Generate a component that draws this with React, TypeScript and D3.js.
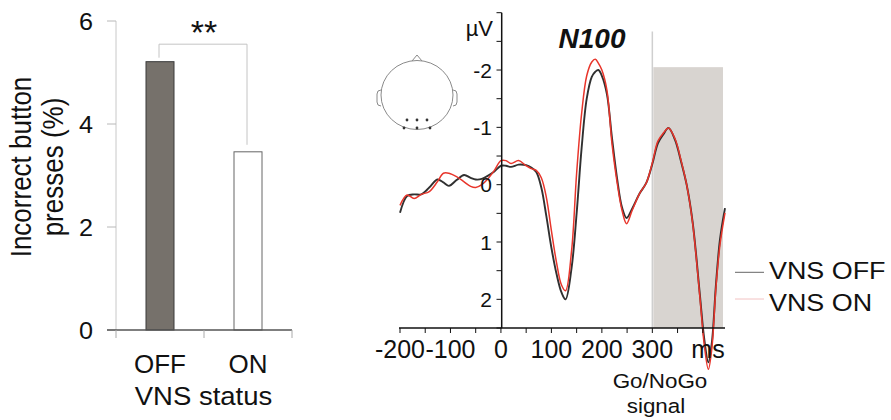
import React from "react";
import * as d3 from "d3";

// ---------- Data ----------
const BAR_CATEGORIES = ["OFF", "ON"];
const BAR_VALUES = [5.21, 3.46];
const BAR_Y_TICKS = [0, 2, 4, 6];

const TIME_MS = [
  -200, -186, -172, -158, -142, -126, -114, -103, -88, -73, -60, -50, -38, -27, -13,
  0, 10, 20, 35, 50, 60, 70, 80, 90, 100, 110, 120, 128, 140, 150, 160, 170, 180, 187,
  193, 200, 210, 220, 230, 240, 249, 260, 275, 288, 300, 311, 322, 332, 345, 357, 368,
  380, 394, 403, 411, 418, 426, 434, 444,
];
const VNS_OFF = [
  0.49, 0.2, 0.17, 0.17, 0.05, -0.09, -0.04, 0.02, -0.08, -0.17, -0.12, -0.09, -0.1, -0.15, -0.23,
  -0.33, -0.33, -0.31, -0.35, -0.34, -0.3, -0.22, 0.05, 0.55, 1.1, 1.55, 1.88, 2.0, 1.45, 0.5, -0.65,
  -1.5, -1.88, -1.97, -2.0, -1.9, -1.58, -0.82, -0.12, 0.4, 0.58, 0.42, 0.15, -0.03, -0.36, -0.72,
  -0.88, -0.99, -0.78, -0.4, 0.0, 0.66, 1.9, 2.7, 3.1, 2.75, 1.75, 0.96, 0.41,
];
const VNS_ON = [
  0.36, 0.18, 0.24, 0.17, 0.12, -0.05, -0.2, -0.2, -0.14, -0.05, 0.03, 0.05, 0.0, -0.09, -0.25,
  -0.42, -0.42, -0.37, -0.42, -0.33, -0.28, -0.25, -0.12, 0.22, 0.8, 1.35, 1.75, 1.85, 1.15, -0.2, -1.25,
  -1.9, -2.14, -2.19, -2.12, -2.0, -1.65, -0.72, -0.05, 0.45, 0.68, 0.45, 0.15, -0.03, -0.38, -0.76,
  -0.9, -0.99, -0.8, -0.42, 0.0, 0.68, 1.94, 2.8, 3.22, 2.85, 1.8, 1.05, 0.49,
];
const ERP_X_TICKS = [-200, -150, -100, -50, 0, 50, 100, 150, 200, 250, 300, 350, 400];
const ERP_X_LABELS = [-200, -100, 0, 100, 200, 300];
const ERP_Y_TICKS = [-3, -2.5, -2, -1.5, -1, -0.5, 0, 0.5, 1, 1.5, 2, 2.5];
const ERP_Y_LABELS = [-2, -1, 0, 1, 2];
const SIGNAL_MS = 300;
const WINDOW_MS = [302, 440];
const WINDOW_TOP_UV = -2.05;
const LEGEND = ["VNS OFF", "VNS ON"];
const ELECTRODES = [
  [-10, 25], [0, 25], [10, 25], [-13, 33], [0, 33], [13, 33],
];

const FONT = "'Liberation Sans', Arial, Helvetica, sans-serif";

function ST(props: any) {
  const { x, y, sx = 1, rot = 0, children, ...rest } = props;
  return (
    <text
      transform={`translate(${x},${y}) scale(${sx},1)${rot ? ` rotate(${rot})` : ""}`}
      fontFamily={FONT}
      {...rest}
    >
      {children}
    </text>
  );
}

export default function App() {
  // ---- Left bar chart scales ----
  const bx = d3.scalePoint<string>().domain(BAR_CATEGORIES).range([116, 292]).padding(0.5);
  const by = d3.scaleLinear().domain([0, 6]).range([330, 21]);
  const barW = 28;

  // ---- ERP scales ----
  const ex = d3.scaleLinear().domain([-200, 444]).range([400, 725]);
  const ey = d3.scaleLinear().domain([-3, 2.5]).range([12.7, 328]);
  const line = d3
    .line<number>()
    .x((_, i) => ex(TIME_MS[i]))
    .y((d) => ey(d))
    .curve(d3.curveCatmullRom.alpha(0.5));

  const bracketTop = by(5.55);
  const offX = bx("OFF")!;
  const onX = bx("ON")!;

  return (
    <svg
      width={891}
      height={420}
      style={{ position: "absolute", left: 0, top: 0, background: "#fff" }}
    >
      {/* ===== Left chart ===== */}
      <line x1={116} x2={116} y1={by(6)} y2={by(0)} stroke="#c8c8c8" strokeWidth={1} />
      {BAR_Y_TICKS.map((t) => (
        <g key={t}>
          <line x1={107} x2={116} y1={by(t)} y2={by(t)} stroke="#b8b8b8" strokeWidth={1} />
          <ST x={93} y={by(t)} dy="0.36em" textAnchor="end" fontSize={24} sx={1.05} fill="#111">
            {t}
          </ST>
        </g>
      ))}
      {BAR_CATEGORIES.map((c, i) => (
        <rect
          key={c}
          x={bx(c)! - barW / 2}
          y={by(BAR_VALUES[i])}
          width={barW}
          height={by(0) - by(BAR_VALUES[i])}
          fill={i === 0 ? "#76716b" : "#ffffff"}
          stroke={i === 0 ? "#3a3a3a" : "#666"}
          strokeWidth={1}
        />
      ))}
      <line x1={107} x2={292} y1={by(0)} y2={by(0)} stroke="#555" strokeWidth={1.5} />
      {[116, 204, 292].map((x) => (
        <line key={x} x1={x} x2={x} y1={by(0)} y2={by(0) + 8} stroke="#aaa" strokeWidth={1} />
      ))}
      <path
        d={`M${offX - 1},${by(BAR_VALUES[0]) - 4}V${bracketTop}H${onX - 1}V${by(BAR_VALUES[1]) - 7}`}
        fill="none"
        stroke="#c4c4c4"
        strokeWidth={1}
      />
      <ST x={(offX + onX) / 2} y={44} textAnchor="middle" fontSize={34} fill="#111">
        **
      </ST>
      {BAR_CATEGORIES.map((c) => (
        <ST key={c} x={bx(c)!} y={373} textAnchor="middle" fontSize={25} sx={1.04} fill="#111">
          {c}
        </ST>
      ))}
      <ST x={203.5} y={405} textAnchor="middle" fontSize={25} sx={1.1} fill="#111">
        VNS status
      </ST>
      <g transform="translate(31,167) scale(1.1,1) rotate(-90)">
        <text textAnchor="middle" fontSize={26} fontFamily={FONT} fill="#111">
          Incorrect button
        </text>
      </g>
      <g transform="translate(63,167) scale(1.1,1) rotate(-90)">
        <text textAnchor="middle" fontSize={26} fontFamily={FONT} fill="#111">
          presses (%)
        </text>
      </g>

      {/* ===== Right ERP chart ===== */}
      <rect
        x={ex(WINDOW_MS[0])}
        y={ey(WINDOW_TOP_UV)}
        width={ex(WINDOW_MS[1]) - ex(WINDOW_MS[0])}
        height={ey(2.5) - ey(WINDOW_TOP_UV)}
        fill="#d8d4d0"
      />
      <line
        x1={ex(SIGNAL_MS)}
        x2={ex(SIGNAL_MS)}
        y1={ey(-2.67)}
        y2={ey(2.5)}
        stroke="#cfcfcf"
        strokeWidth={1.5}
      />

      {/* head inset */}
      <g transform="translate(417,95)" fill="none" stroke="#8a8a8a" strokeWidth={1}>
        <ellipse cx={0} cy={0} rx={36} ry={34.5} />
        <path d="M-5,-34 L0,-40 L5,-34" />
        <path d="M-36,-5 q-4,0 -4,4 v8 q0,4 4,4" />
        <path d="M36,-5 q4,0 4,4 v8 q0,4 -4,4" />
        {ELECTRODES.map(([x, y], i) => (
          <circle key={i} cx={x} cy={y} r={1.4} fill="#333" stroke="none" />
        ))}
      </g>

      <path d={line(VNS_OFF) || ""} fill="none" stroke="#1a1a1a" strokeWidth={1.9} opacity={0.9} />
      <path d={line(VNS_ON) || ""} fill="none" stroke="#e8352b" strokeWidth={1.5} />

      {/* axes */}
      <line x1={501.7} x2={501.7} y1={ey(-3)} y2={ey(2.5)} stroke="#111" strokeWidth={1.5} />
      {ERP_Y_TICKS.map((t) => (
        <line key={t} x1={496.5} x2={501.7} y1={ey(t)} y2={ey(t)} stroke="#111" strokeWidth={1} />
      ))}
      {ERP_Y_LABELS.map((t) => (
        <ST key={t} x={492} y={ey(t)} dy="0.36em" textAnchor="end" fontSize={21} fill="#111">
          {String(t)}
        </ST>
      ))}
      <line x1={399} x2={725} y1={ey(2.5)} y2={ey(2.5)} stroke="#111" strokeWidth={1.5} />
      {ERP_X_TICKS.map((t) => (
        <line key={t} x1={ex(t)} x2={ex(t)} y1={ey(2.5)} y2={ey(2.5) + 5} stroke="#111" strokeWidth={1} />
      ))}
      {ERP_X_LABELS.map((t) => (
        <ST key={t} x={ex(t)} y={358} textAnchor="middle" fontSize={25} fill="#111">
          {String(t)}
        </ST>
      ))}
      <ST x={708} y={358} textAnchor="middle" fontSize={25} fill="#111">
        ms
      </ST>
      <ST x={493} y={36} textAnchor="end" fontSize={22} fill="#111">
        µV
      </ST>
      <ST x={592} y={48} textAnchor="middle" fontSize={28} fontWeight="bold" fontStyle="italic" fill="#111">
        N100
      </ST>
      <ST x={660} y={388} textAnchor="middle" fontSize={19.5} sx={1.15} fill="#111">
        Go/NoGo
      </ST>
      <ST x={656} y={413} textAnchor="middle" fontSize={19.5} sx={1.15} fill="#111">
        signal
      </ST>

      {/* legend */}
      <line x1={735} x2={764} y1={272.3} y2={272.3} stroke="#666" strokeWidth={1} />
      <line x1={735} x2={764} y1={299} y2={299} stroke="#f2c2c2" strokeWidth={1} />
      <ST x={769} y={279} fontSize={23} sx={1.17} fill="#111">
        {LEGEND[0]}
      </ST>
      <ST x={769} y={311} fontSize={23} sx={1.17} fill="#111">
        {LEGEND[1]}
      </ST>
    </svg>
  );
}
